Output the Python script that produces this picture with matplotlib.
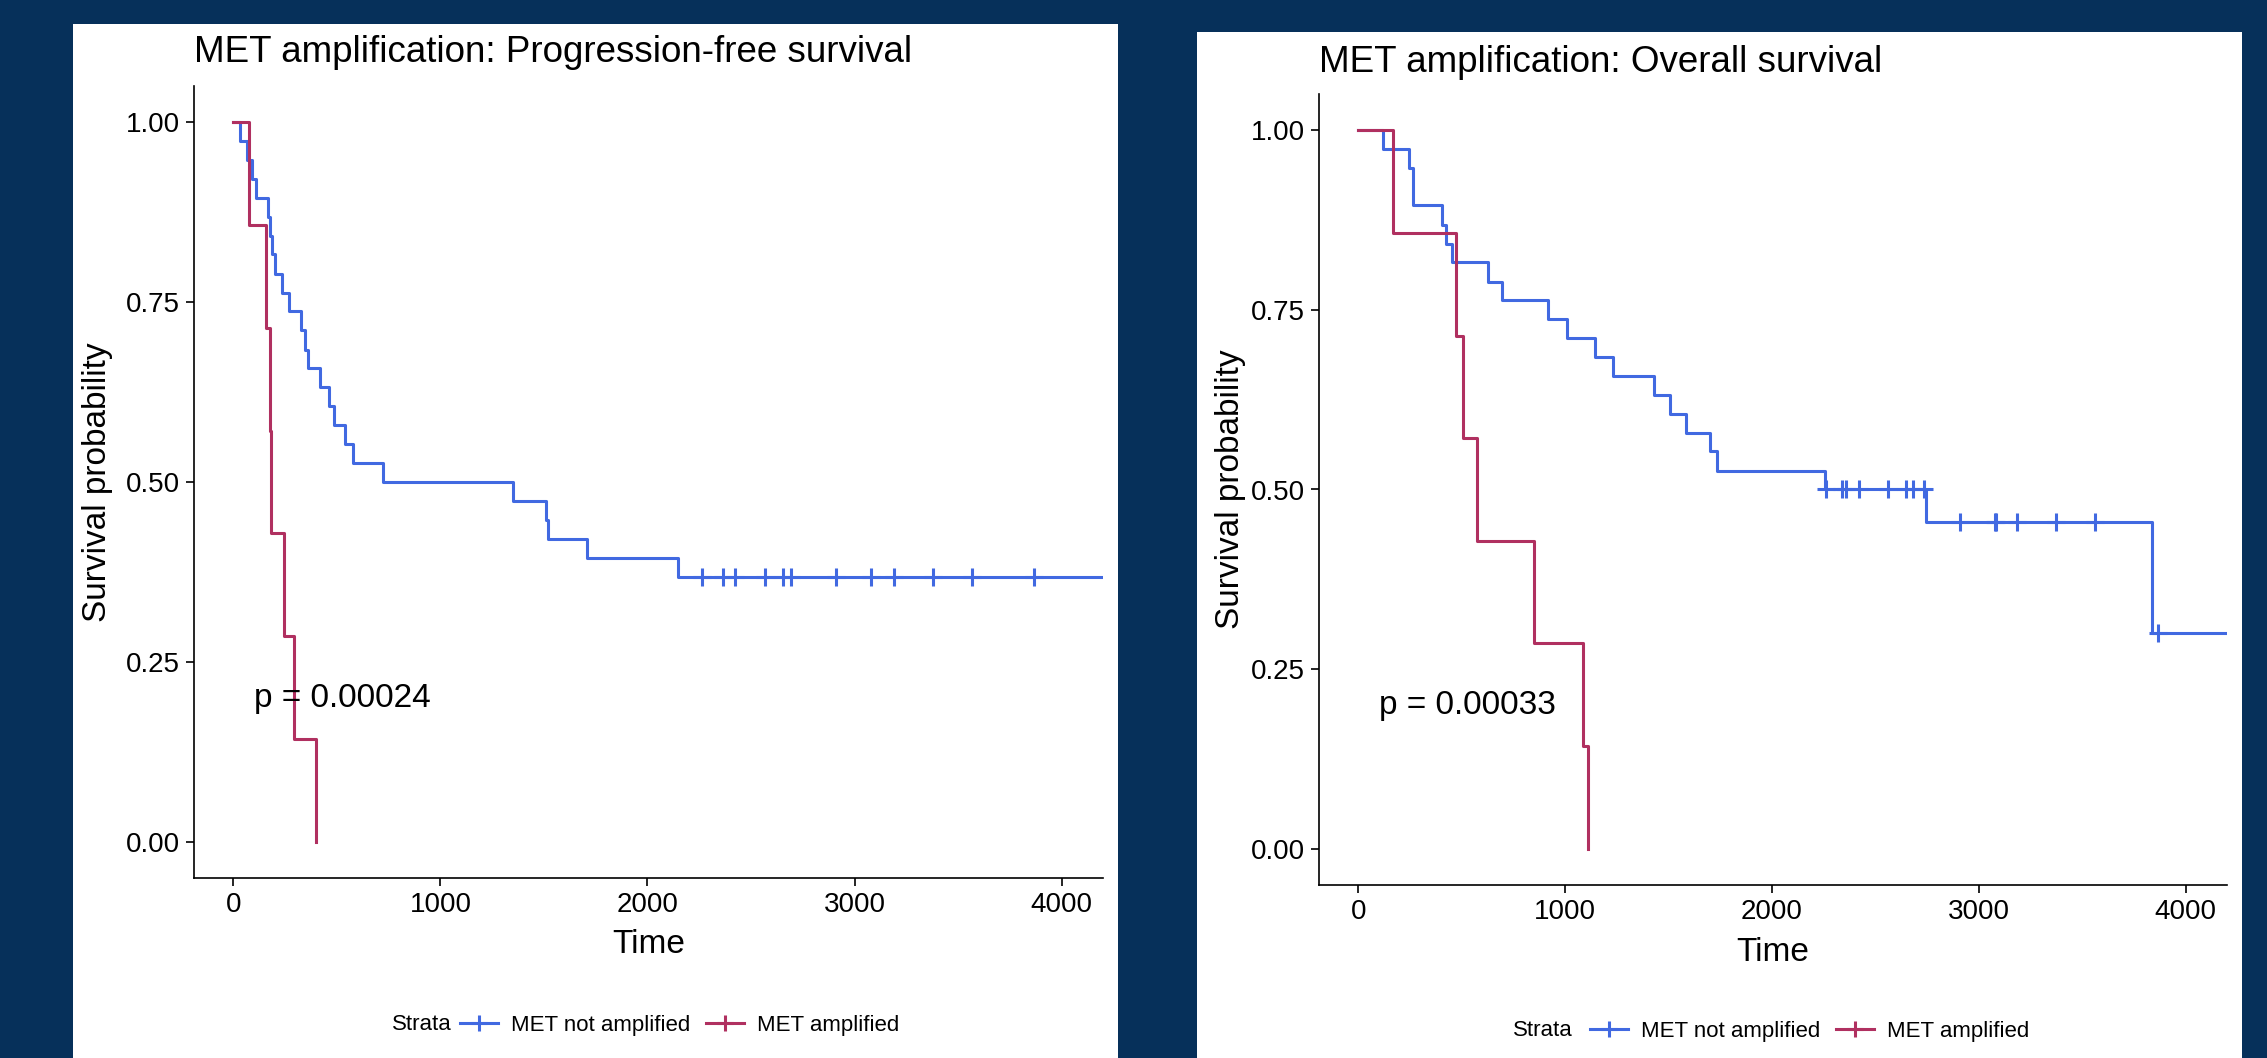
import matplotlib
matplotlib.use("Agg")
import matplotlib.pyplot as plt
from matplotlib.lines import Line2D
from matplotlib.patches import Rectangle

plt.rcParams['font.family'] = ['Liberation Sans', 'DejaVu Sans']

# --- data (Kaplan-Meier steps: event time -> survival after it)
pfs_not_amp_t = [30, 66, 90, 109, 167, 175, 187, 203, 235, 269, 328, 344, 360, 420,
                 463, 487, 539, 580, 724, 1352, 1509, 1520, 1710, 2149]
pfs_not_amp_s = [0.974, 0.947, 0.921, 0.895, 0.868, 0.842, 0.816, 0.789, 0.763, 0.737,
                 0.711, 0.684, 0.658, 0.632, 0.605, 0.579, 0.553, 0.526, 0.500, 0.474,
                 0.447, 0.421, 0.395, 0.368]
pfs_not_amp_cens = [2263, 2367, 2424, 2567, 2656, 2692, 2909, 3081, 3191, 3377, 3569, 3869]

pfs_amp_t = [76, 160, 175, 181, 247, 293, 397]
pfs_amp_s = [0.857, 0.714, 0.571, 0.429, 0.286, 0.143, 0.0]

os_not_amp_t = [119, 244, 263, 405, 424, 455, 625, 694, 919, 1010, 1145, 1232, 1431,
                1505, 1585, 1701, 1736, 2254, 2745, 3836]
os_not_amp_s = [0.974, 0.947, 0.895, 0.868, 0.842, 0.816, 0.789, 0.763, 0.737, 0.711,
                0.684, 0.658, 0.632, 0.605, 0.579, 0.553, 0.526, 0.500, 0.4545, 0.300]
os_not_amp_cens = [2262, 2341, 2360, 2421, 2563, 2650, 2682, 2734,
                   2909, 3080, 3084, 3185, 3372, 3564, 3867]

os_amp_t = [168, 472, 507, 573, 850, 1088, 1112]
os_amp_s = [0.857, 0.714, 0.571, 0.429, 0.286, 0.143, 0.0]

followup_end = 4200
strata = ["MET not amplified", "MET amplified"]
titles = ["MET amplification: Progression-free survival", "MET amplification: Overall survival"]
pvals = ["p = 0.00024", "p = 0.00033"]
xticks = [0, 1000, 2000, 3000, 4000]
yticks = [0.0, 0.25, 0.5, 0.75, 1.0]

BLUE = "#4169E1"
RED = "#B03060"
NAVY = "#06305A"

W, H = 2267, 1058
fig = plt.figure(figsize=(W / 100, H / 100), dpi=100, facecolor=NAVY)


def px(x, y):
    return x / W, 1 - y / H


# white panels behind each plot
fig.patches.append(Rectangle((73 / W, 0), 1045 / W, 1 - 24 / H, transform=fig.transFigure,
                             facecolor="white", edgecolor="none", zorder=-5))
fig.patches.append(Rectangle((1197 / W, 0), 1045 / W, 1 - 32 / H, transform=fig.transFigure,
                             facecolor="white", edgecolor="none", zorder=-5))


def km_steps(times, surv, extend_to=None):
    xs = [0] + list(times)
    ys = [1.0] + list(surv)
    if extend_to is not None:
        xs.append(extend_to)
        ys.append(ys[-1])
    return xs, ys


def censor_y(times, surv, cens):
    out = []
    for c in cens:
        s = 1.0
        for t, v in zip(times, surv):
            if t <= c:
                s = v
        out.append(s)
    return out


def km_plot(ax, blue_t, blue_s, blue_c, red_t, red_s, pval):
    xs, ys = km_steps(blue_t, blue_s, followup_end)
    ax.step(xs, ys, where="post", color=BLUE, lw=2.2)
    ax.plot(blue_c, censor_y(blue_t, blue_s, blue_c), ls="none", marker="+",
            color=BLUE, markersize=13, mew=2.2)
    xs, ys = km_steps(red_t, red_s)
    ax.step(xs, ys, where="post", color=RED, lw=2.2)
    ax.set_xlim(-190, 4200)
    ax.set_ylim(-0.05, 1.05)
    ax.set_xticks(xticks)
    ax.set_yticks(yticks)
    ax.set_yticklabels(["%.2f" % v for v in yticks])
    ax.set_facecolor("white")
    for side in ["top", "right"]:
        ax.spines[side].set_visible(False)
    for side in ["left", "bottom"]:
        ax.spines[side].set_linewidth(1.2)
    ax.tick_params(labelsize=20, length=6, width=1.2, pad=4, colors="black")
    ax.set_xlabel("Time", fontsize=24)
    ax.set_ylabel("Survival probability", fontsize=24)
    ax.text(100, 0.2, pval, ha="left", va="center", fontsize=24)


ax1 = fig.add_axes([194 / W, 1 - 878 / H, 909 / W, 792 / H])
km_plot(ax1, pfs_not_amp_t, pfs_not_amp_s, pfs_not_amp_cens, pfs_amp_t, pfs_amp_s, pvals[0])
ax1.xaxis.set_label_coords(0.5, -0.064)
ax1.yaxis.set_label_coords(-0.089, 0.5)

ax2 = fig.add_axes([1319 / W, 1 - 885 / H, 908 / W, 791 / H])
km_plot(ax2, os_not_amp_t, os_not_amp_s, os_not_amp_cens, os_amp_t, os_amp_s, pvals[1])
ax2.xaxis.set_label_coords(0.5, -0.066)
ax2.yaxis.set_label_coords(-0.080, 0.5)

fig.text(*px(194, 53), titles[0], fontsize=26.5, ha="left", va="center")
fig.text(*px(1319, 62), titles[1], fontsize=26.5, ha="left", va="center")

# legends along the bottom of each panel
handles = [Line2D([], [], color=c, lw=2.2, marker="+", markersize=12, mew=2.2)
           for c in (BLUE, RED)]
for strata_x, handle_x, y in [(392, 460, 1025), (1513, 1590, 1031)]:
    fig.text(*px(strata_x, y), "Strata", fontsize=16, ha="left", va="center")
    fig.legend(handles, strata, loc="center left", bbox_to_anchor=px(handle_x, y),
               ncol=2, frameon=False, fontsize=16, handlelength=1.7,
               handletextpad=0.6, columnspacing=0.7, borderpad=0, borderaxespad=0)

fig.savefig("out.png", dpi=100, facecolor=NAVY)
